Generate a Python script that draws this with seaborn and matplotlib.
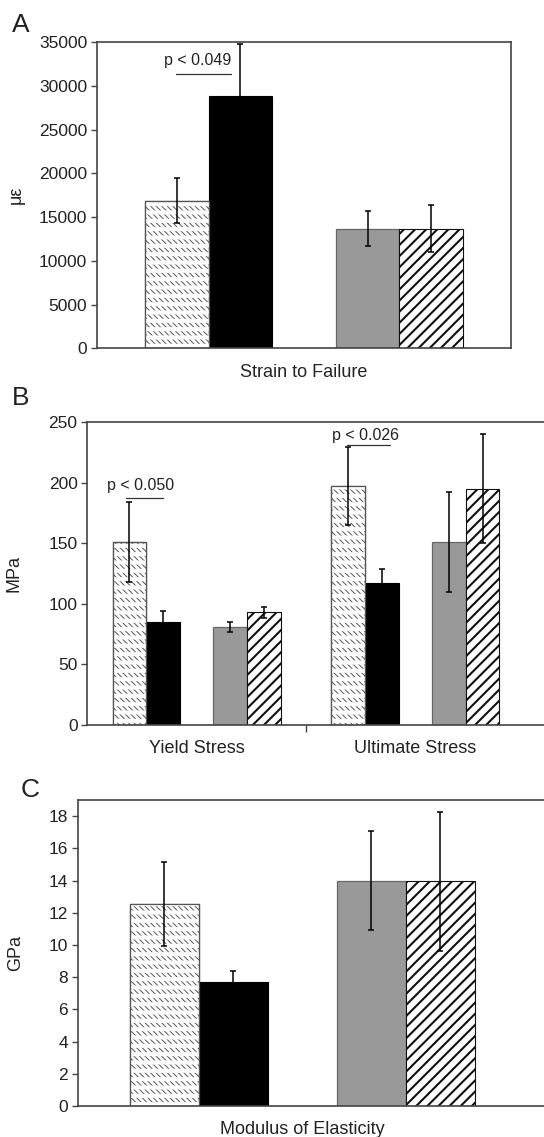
import numpy as np
import pandas as pd
import matplotlib
matplotlib.use("Agg")
import matplotlib.pyplot as plt
import seaborn as sns

# ---------------- data ----------------
groups = ["Group 1", "Group 2", "Group 3", "Group 4"]

a_categories = ["Strain to Failure"]
a_means = [16900, 28900, 13700, 13700]
a_errors = [2600, 5850, 1950, 2700]

b_categories = ["Yield Stress", "Ultimate Stress"]
b_yield_means = [151, 85, 81, 93]
b_yield_errors = [33, 9, 4, 4.5]
b_ult_means = [197.5, 117, 151, 195]
b_ult_errors = [32.5, 11.5, 41.5, 45]

c_categories = ["Modulus of Elasticity"]
c_means = [12.55, 7.7, 14.0, 13.95]
c_errors = [2.6, 0.7, 3.05, 4.3]

a_yticks = [0, 5000, 10000, 15000, 20000, 25000, 30000, 35000]
b_yticks = [0, 50, 100, 150, 200, 250]
c_yticks = [0, 2, 4, 6, 8, 10, 12, 14, 16, 18]

# ---------------- style ----------------
sns.set_style("white")
plt.rcParams["font.family"] = ["Liberation Sans", "DejaVu Sans"]
plt.rcParams["hatch.linewidth"] = 1.5

SPINE = "#444444"
TXT = "#222222"
hue_order = ["Group 1", "Group 2", "gap", "Group 3", "Group 4"]
palette = {"Group 1": "white", "Group 2": "black", "gap": "white",
           "Group 3": "#999999", "Group 4": "white"}
WIDTH = 0.768
BW = WIDTH / len(hue_order)


def make_df(categories, means_list, errors_list):
    rows = []
    for cat, means, errs in zip(categories, means_list, errors_list):
        for g, m, e in zip(groups, means, errs):
            rows.append({"measure": cat, "group": g, "value": m, "err": e})
    return pd.DataFrame(rows)


def set_hlw(p, lw):
    if hasattr(p, "set_hatch_linewidth"):
        p.set_hatch_linewidth(lw)


def draw_panel(ax, df, categories, ylim, yticks, ylabel, label_x, full_box, xlim, mid_tick=False):
    sns.barplot(data=df, x="measure", y="value", hue="group", order=categories,
                hue_order=hue_order, palette=palette, width=WIDTH, errorbar=None,
                legend=False, saturation=1, ax=ax)
    hue_slots = {0: "Group 1", 1: "Group 2", 3: "Group 3", 4: "Group 4"}
    for bar in list(ax.patches):
        if not isinstance(bar, matplotlib.patches.Rectangle):
            continue
        h = bar.get_height()
        if np.isnan(h) or h == 0:
            continue
        xc = bar.get_x() + bar.get_width() / 2
        ci = int(round(xc))
        slot = int(round((xc - ci) / BW + 2))
        g = hue_slots.get(slot)
        if g is None:
            continue
        row = df[(df["measure"] == categories[ci]) & (df["group"] == g)].iloc[0]
        bar.set_zorder(2)
        if g == "Group 1":
            bar.set_facecolor("white")
            bar.set_edgecolor("#555555")
            bar.set_linewidth(0.9)
            bar.set_hatch("\\\\\\\\\\\\")
            set_hlw(bar, 0.7)
            ov = matplotlib.patches.Rectangle(bar.get_xy(), bar.get_width(), h,
                                              facecolor="none", edgecolor="white",
                                              linewidth=0, hatch="--", zorder=2.1)
            set_hlw(ov, 2.9)
            ax.add_patch(ov)
            ol = matplotlib.patches.Rectangle(bar.get_xy(), bar.get_width(), h,
                                              facecolor="none", edgecolor="#555555",
                                              linewidth=0.9, zorder=2.2)
            ax.add_patch(ol)
        elif g == "Group 2":
            bar.set_facecolor("black")
            bar.set_edgecolor("black")
            bar.set_linewidth(0.8)
        elif g == "Group 3":
            bar.set_facecolor("#999999")
            bar.set_edgecolor("#666666")
            bar.set_linewidth(0.9)
        else:
            bar.set_facecolor("white")
            bar.set_edgecolor("#111111")
            bar.set_linewidth(0.8)
            bar.set_hatch("///")
            set_hlw(bar, 1.5)
        ax.errorbar([xc], [row["value"]], yerr=[row["err"]], fmt="none",
                    ecolor="#000000", elinewidth=1.1, capsize=2, capthick=1.1,
                    zorder=3)

    ax.set_ylim(*ylim)
    ax.set_yticks(yticks)
    ax.set_xlim(*xlim)
    ax.set_xlabel("")
    ax.set_ylabel(ylabel, fontsize=13, color=TXT)
    ax.yaxis.set_label_coords(label_x, 0.5)
    ax.tick_params(axis="y", direction="out", length=4, width=1, color=SPINE,
                   labelsize=12.5, labelcolor=TXT, pad=3, left=True)
    ax.tick_params(axis="x", which="major", length=0, labelsize=13,
                   labelcolor=TXT, pad=11)
    if mid_tick:
        ax.set_xticks([0.5], minor=True)
        ax.tick_params(axis="x", which="minor", direction="out", length=5,
                       width=1, color=SPINE, bottom=True)
    for name, sp in ax.spines.items():
        sp.set_color(SPINE)
        sp.set_linewidth(1.2)
    if not full_box:
        ax.spines["right"].set_visible(False)
    ax.grid(False)


fig = plt.figure(figsize=(5.44, 11.37), dpi=100)
W, H = 544.0, 1137.0

# Panel A
axA = fig.add_axes([97 / W, 1 - 348.3 / H, (511 - 97) / W, (348.3 - 42.3) / H])
dfA = make_df(a_categories, [a_means], [a_errors])
draw_panel(axA, dfA, a_categories, (0, 35000), a_yticks, "\u03bc\u03b5", -0.174,
           True, (-0.5, 0.5))
axA.plot([-0.309, -0.176], [31370, 31370], color="#333333", lw=0.9, zorder=4)
axA.text(-0.258, 32400, "p < 0.049", ha="center", va="baseline", fontsize=11.5,
         color=TXT)

# Panel B
axB = fig.add_axes([87.3 / W, 1 - 725 / H, 1 - 87.3 / W, (725 - 422.3) / H])
dfB = make_df(b_categories, [b_yield_means, b_ult_means],
              [b_yield_errors, b_ult_errors])
draw_panel(axB, dfB, b_categories, (0, 250), b_yticks, "MPa", -0.141,
           False, (-0.5, 1.588), mid_tick=True)
axB.plot([-0.325, -0.154], [187.2, 187.2], color="#333333", lw=0.9, zorder=4)
axB.text(-0.257, 194, "p < 0.050", ha="center", va="baseline", fontsize=11.5,
         color=TXT)
axB.plot([0.688, 0.883], [231.2, 231.2], color="#333333", lw=0.9, zorder=4)
axB.text(0.771, 235.3, "p < 0.026", ha="center", va="baseline", fontsize=11.5,
         color=TXT)

# Panel C
axC = fig.add_axes([77.7 / W, 1 - 1106 / H, 1 - 77.7 / W, (1106 - 800) / H])
dfC = make_df(c_categories, [c_means], [c_errors])
draw_panel(axC, dfC, c_categories, (0, 19), c_yticks, "GPa", -0.115,
           False, (-0.5, 0.5386))

fig.text(12 / W, 1 - 32 / H, "A", fontsize=19, color=TXT, va="baseline")
fig.text(12 / W, 1 - 405 / H, "B", fontsize=19, color=TXT, va="baseline")
fig.text(21 / W, 1 - 797 / H, "C", fontsize=19, color=TXT, va="baseline")

fig.savefig("out.png", dpi=100)
